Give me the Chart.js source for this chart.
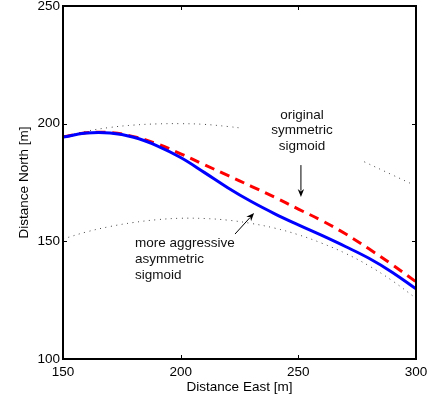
<!DOCTYPE html>
<html>
<head>
<meta charset="utf-8">
<script src="https://cdn.jsdelivr.net/npm/chart.js@4.4.0/dist/chart.umd.min.js"></script>
<style>
  html, body { margin: 0; padding: 0; background: #fff; }
  canvas { display: block; }
</style>
</head>
<body>
<canvas id="pathChart" width="430" height="402"></canvas>
<script>
// Values (Distance East / Distance North, metres)
const eastSteps = [150, 160, 170, 180, 190, 200, 210, 220, 230, 240, 250, 260, 270, 280, 290, 300];
const asymmetricNorth = [194.3, 196.0, 196.0, 194.2, 190.6, 185.6, 179.3, 172.8, 166.9, 161.7, 157.0, 152.5, 147.8, 142.8, 136.8, 129.8];
const symmetricNorth = [194.4, 196.1, 196.2, 194.5, 191.4, 187.2, 182.6, 178.0, 173.4, 168.7, 163.7, 158.8, 153.2, 146.8, 140.0, 132.8];

const upperEdgeEast = [150, 160, 170, 180, 190, 200, 210, 220, 226, 252, 278, 290, 299];
const upperEdgeNorth = [194.5, 196.8, 198.4, 199.4, 199.9, 200.0, 199.7, 198.8, 198.1, null, 183.8, 178.2, 174.0];
const lowerEdgeNorth = [151.0, 154.0, 156.3, 158.0, 159.2, 159.8, 159.7, 159.0, 157.6, 155.6, 152.8, 149.2, 144.9, 139.6, 133.2, 125.8];

const xTicks = [150, 200, 250, 300];
const yTicks = [100, 150, 200, 250];

// annotation texts and arrows, in data coordinates
const noteSymmetric = ['original', 'symmetric', 'sigmoid'];
const noteSymmetricAt = [251.6, 203.7];
const noteAsymmetric = ['more aggressive', 'asymmetric', 'sigmoid'];
const noteAsymmetricAt = [180.6, 149.3];
const arrowSymmetric = [[251.1, 182.4], [251.1, 168.8]];
const arrowAsymmetric = [[223.1, 153.1], [231.2, 162.0]];

const FONT = '"Liberation Sans", Arial, Helvetica, sans-serif';
const toPoints = (xs, ys) => xs.map((v, i) => ({ x: v, y: ys[i] }));

const drawArrow = (ctx, x0, y0, x1, y1) => {
  const ang = Math.atan2(y1 - y0, x1 - x0);
  const len = 8, half = 3.2;
  ctx.beginPath();
  ctx.moveTo(x0, y0);
  ctx.lineTo(x1 - Math.cos(ang) * len * 0.8, y1 - Math.sin(ang) * len * 0.8);
  ctx.stroke();
  ctx.beginPath();
  ctx.moveTo(x1, y1);
  ctx.lineTo(x1 - Math.cos(ang) * len - Math.sin(ang) * half, y1 - Math.sin(ang) * len + Math.cos(ang) * half);
  ctx.lineTo(x1 - Math.cos(ang) * len * 0.7, y1 - Math.sin(ang) * len * 0.7);
  ctx.lineTo(x1 - Math.cos(ang) * len + Math.sin(ang) * half, y1 - Math.sin(ang) * len - Math.cos(ang) * half);
  ctx.closePath();
  ctx.fill();
};

// box, inward ticks, notes and arrows (MATLAB style)
const matlabFrame = {
  id: 'matlabFrame',
  afterDraw(chart) {
    const { ctx, chartArea: a, scales: { x, y } } = chart;
    ctx.save();
    ctx.strokeStyle = '#000';
    ctx.lineWidth = 1;
    xTicks.forEach(v => {
      const px = Math.round(x.getPixelForValue(v)) + 0.5;
      ctx.beginPath();
      ctx.moveTo(px, a.bottom); ctx.lineTo(px, a.bottom - 4);
      ctx.moveTo(px, a.top); ctx.lineTo(px, a.top + 4);
      ctx.stroke();
    });
    yTicks.forEach(v => {
      const py = Math.round(y.getPixelForValue(v)) + 0.5;
      ctx.beginPath();
      ctx.moveTo(a.left, py); ctx.lineTo(a.left + 4, py);
      ctx.moveTo(a.right, py); ctx.lineTo(a.right - 4, py);
      ctx.stroke();
    });
    ctx.lineWidth = 2;
    ctx.strokeRect(a.left, a.top, a.right - a.left, a.bottom - a.top);

    ctx.fillStyle = '#111';
    ctx.font = '13.5px ' + FONT;
    ctx.textBaseline = 'middle';
    ctx.textAlign = 'center';
    noteSymmetric.forEach((t, i) => {
      ctx.fillText(t, x.getPixelForValue(noteSymmetricAt[0]), y.getPixelForValue(noteSymmetricAt[1]) + i * 15.5);
    });
    ctx.textAlign = 'left';
    noteAsymmetric.forEach((t, i) => {
      ctx.fillText(t, x.getPixelForValue(noteAsymmetricAt[0]), y.getPixelForValue(noteAsymmetricAt[1]) + i * 16);
    });

    ctx.strokeStyle = '#000';
    ctx.fillStyle = '#000';
    ctx.lineWidth = 1;
    [arrowSymmetric, arrowAsymmetric].forEach(([p0, p1]) => {
      drawArrow(ctx, x.getPixelForValue(p0[0]), y.getPixelForValue(p0[1]),
        x.getPixelForValue(p1[0]), y.getPixelForValue(p1[1]));
    });
    ctx.restore();
  }
};

new Chart(document.getElementById('pathChart'), {
  type: 'scatter',
  data: {
    datasets: [
      {
        label: 'asymmetric sigmoid',
        data: toPoints(eastSteps, asymmetricNorth),
        showLine: true,
        borderColor: '#0000ff',
        borderWidth: 3,
        pointRadius: 0,
        tension: 0.4
      },
      {
        label: 'symmetric sigmoid',
        data: toPoints(eastSteps, symmetricNorth),
        showLine: true,
        borderColor: '#ff0000',
        borderWidth: 3,
        borderDash: [10, 6.5],
        pointRadius: 0,
        tension: 0.4
      },
      {
        label: 'upper edge',
        data: toPoints(upperEdgeEast, upperEdgeNorth),
        showLine: true,
        spanGaps: false,
        borderColor: '#444',
        borderWidth: 1,
        borderDash: [1, 4.5],
        pointRadius: 0,
        tension: 0.4
      },
      {
        label: 'lower edge',
        data: toPoints(eastSteps, lowerEdgeNorth),
        showLine: true,
        borderColor: '#444',
        borderWidth: 1,
        borderDash: [1, 4.5],
        pointRadius: 0,
        tension: 0.4
      }
    ]
  },
  options: {
    responsive: false,
    animation: false,
    layout: { padding: { top: 6, right: 14, left: 0, bottom: 0 } },
    plugins: { legend: { display: false }, tooltip: { enabled: false } },
    scales: {
      x: {
        type: 'linear',
        min: 150, max: 300,
        afterBuildTicks: s => { s.ticks = xTicks.map(v => ({ value: v })); },
        afterFit: s => { s.height = 43; s.paddingLeft = 0; s.paddingRight = 0; },
        grid: { display: false, drawTicks: false },
        border: { display: false },
        ticks: { color: '#000', font: { family: FONT, size: 13.5 }, padding: 5, maxRotation: 0 },
        title: {
          display: true, text: 'Distance East [m]', color: '#000',
          font: { family: FONT, size: 13.5 }, padding: { top: 0, bottom: 7 }
        }
      },
      y: {
        type: 'linear',
        min: 100, max: 250,
        afterBuildTicks: s => { s.ticks = yTicks.map(v => ({ value: v })); },
        afterFit: s => { s.width = 63; s.paddingTop = 0; s.paddingBottom = 0; },
        grid: { display: false, drawTicks: false },
        border: { display: false },
        ticks: { color: '#000', font: { family: FONT, size: 13.5 }, padding: 3 },
        title: {
          display: true, text: 'Distance North [m]', color: '#000',
          font: { family: FONT, size: 13.5 }, padding: { top: 16, bottom: 0 }
        }
      }
    }
  },
  plugins: [matlabFrame]
});
</script>
</body>
</html>
